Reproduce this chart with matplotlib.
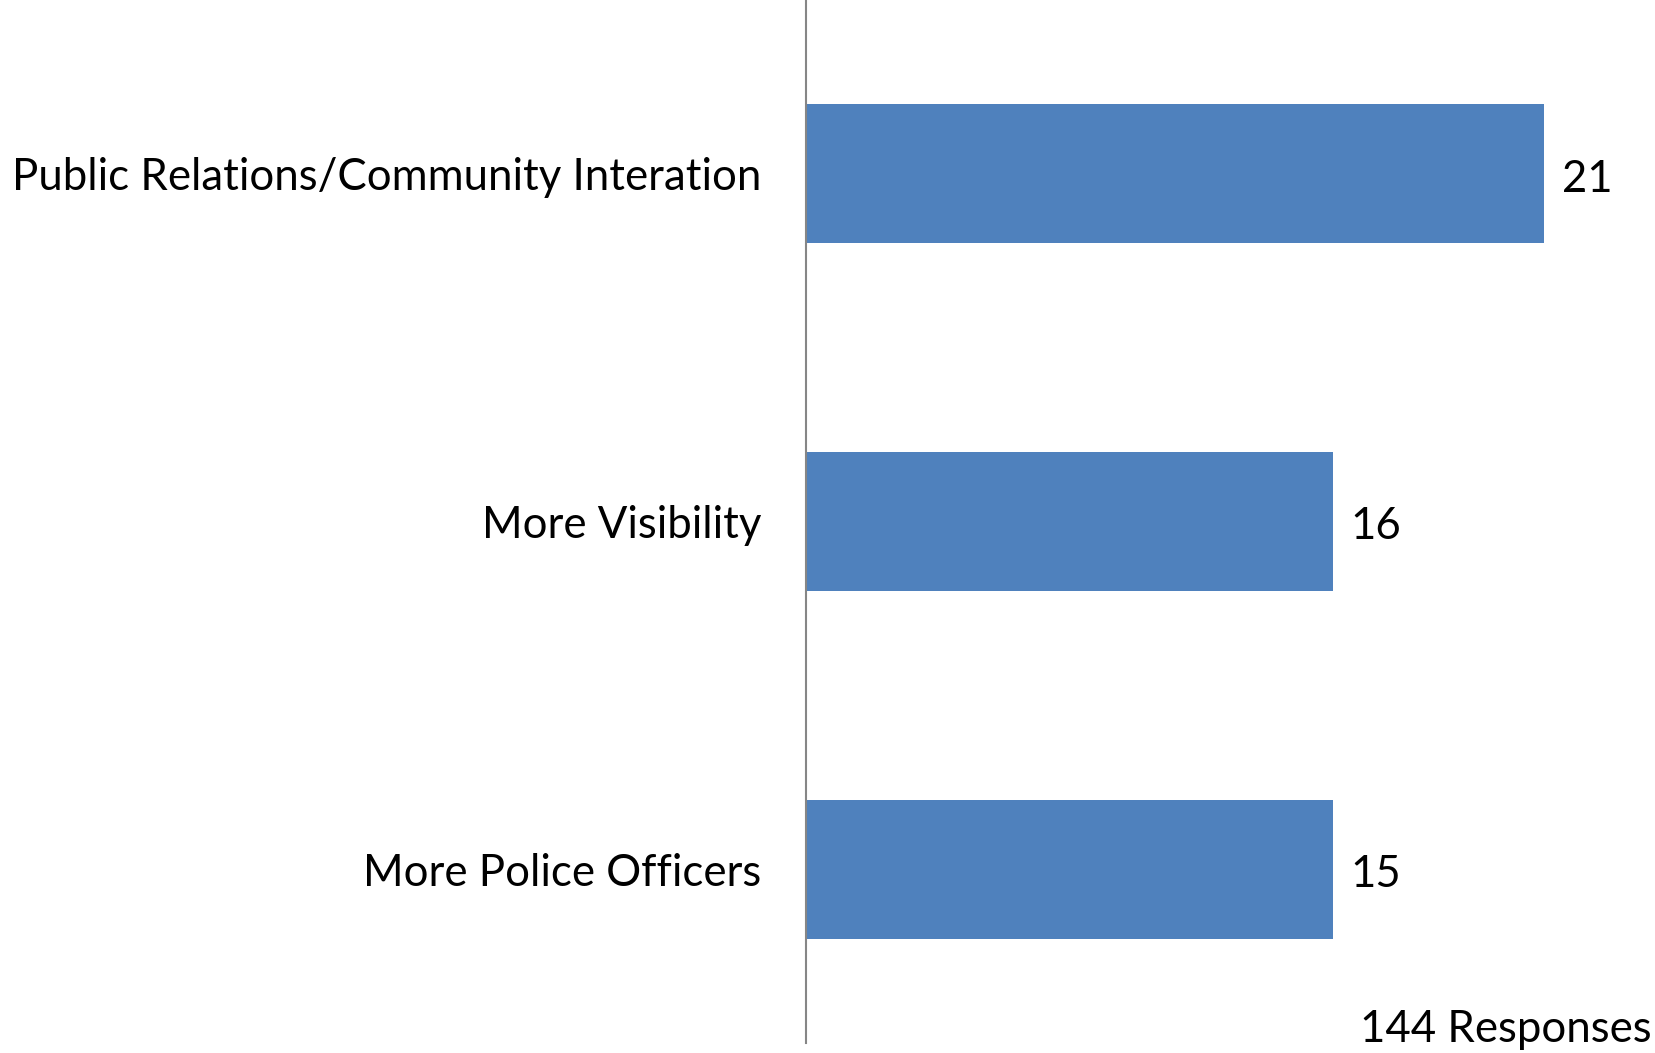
import matplotlib.pyplot as plt

categories = ['Public Relations/Community Interation', 'More Visibility', 'More Police Officers']
# bar lengths as drawn in the picture, and the numbers printed next to them
bar_lengths = [21, 15, 15]
value_labels = ['21', '16', '15']
note = '144 Responses'

plt.rcParams['font.family'] = ['Lato', 'DejaVu Sans']

fig = plt.figure(figsize=(16.55, 10.53), dpi=100)
ax = fig.add_axes([0.487, 0.0095, 0.513, 0.9905])

y = range(len(categories))
ax.barh(y, bar_lengths, height=0.4, color='#4F81BD')
ax.set_ylim(2.5, -0.5)
ax.set_xlim(0, 24.16)

for i, (v, lab) in enumerate(zip(bar_lengths, value_labels)):
    ax.text(v + 0.5, i + 0.015, lab, va='center', ha='left', fontsize=31.5)

ax.set_yticks(list(y))
ax.set_yticklabels(categories, fontsize=31.5)
ax.tick_params(axis='y', length=0, pad=32)
ax.set_xticks([])

for s in ['top', 'right', 'bottom']:
    ax.spines[s].set_visible(False)
ax.spines['left'].set_color('#868686')
ax.spines['left'].set_linewidth(1.5)

fig.text(0.998, 0.022, note, ha='right', va='center', fontsize=31.5)

fig.savefig('out.png', dpi=100)
